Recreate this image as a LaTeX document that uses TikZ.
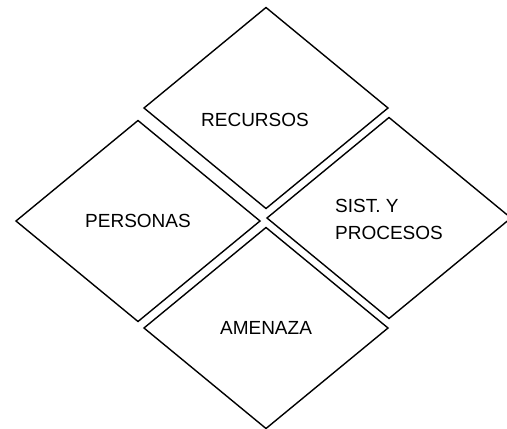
\documentclass[tikz,border=0pt]{standalone}
\usepackage{fontspec}
\setmainfont{Liberation Sans}
\usetikzlibrary{shapes.geometric}

\begin{document}
\begin{tikzpicture}[x=1pt,y=-1pt,rombo/.style={draw,diamond,line width=1.4pt,minimum width=244pt,minimum height=201pt,inner sep=0pt,outer sep=0pt,font=\fontsize{19}{26}\selectfont}]
    \useasboundingbox (0,0) rectangle (507,429);
    %
    \node[rombo](rec) at (266,108){};
    \node[rombo](per) at (138,221){PERSONAS};
    \node[rombo](sis) at (389,218){};
    \node[rombo](ame) at (266,328){AMENAZA};
    %
    \node[font=\fontsize{19}{26}\selectfont](trec) at (255,120){RECURSOS};
    \node[font=\fontsize{19}{27}\selectfont,align=left](tsis) at (389,219){SIST. Y\\PROCESOS};
    %
\end{tikzpicture}
\end{document}
